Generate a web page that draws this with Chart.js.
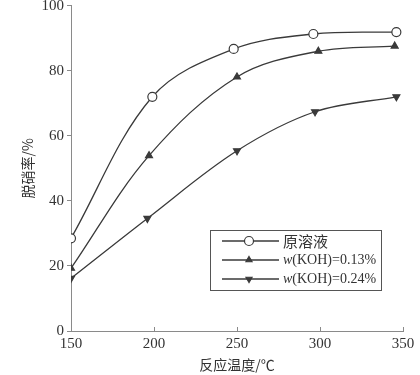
<!DOCTYPE html>
<html>
<head>
<meta charset="utf-8">
<script src="https://cdn.jsdelivr.net/npm/chart.js@4/dist/chart.umd.min.js"></script>
<style>
html,body{margin:0;padding:0;background:#fff;}
canvas{display:block;}
</style>
</head>
<body>
<canvas id="c" width="420" height="375"></canvas>
<script>
const seriesNames = ["原溶液", "w(KOH)=0.13%", "w(KOH)=0.24%"];
const tempsRaw   = [150, 199, 248, 296, 346];
const ratesRaw   = [28.5, 72.0, 86.7, 91.3, 91.9];
const temps013   = [150, 197, 250, 299, 345];
const rates013   = [19.3, 53.9, 78.1, 86.0, 87.6];
const temps024   = [150, 196, 250, 297, 346];
const rates024   = [16.2, 34.6, 55.4, 67.4, 72.0];
const xTicks = [150, 200, 250, 300, 350];
const yTicks = [0, 20, 40, 60, 80, 100];
const xTitle = "反应温度/℃";
const yTitle = "脱硝率/%";

const LINE = "#3a3a3a";
const FONT = "'Liberation Serif', 'Noto Sans CJK SC', serif";

function pts(xs, ys){ return xs.map((x,i)=>({x:x,y:ys[i]})); }

const markers = [
  {pointStyle:'circle', radius:4.5, bg:'#ffffff', rot:0},
  {pointStyle:'triangle', radius:4, bg:LINE, rot:0},
  {pointStyle:'triangle', radius:4, bg:LINE, rot:180}
];
const dataSets = [pts(tempsRaw, ratesRaw), pts(temps013, rates013), pts(temps024, rates024)];

const datasets = dataSets.map((d,i)=>({
  label: seriesNames[i],
  data: d,
  borderColor: LINE,
  borderWidth: 1.3,
  backgroundColor: markers[i].bg,
  pointBackgroundColor: markers[i].bg,
  pointBorderColor: LINE,
  pointBorderWidth: 1.2,
  pointStyle: markers[i].pointStyle,
  pointRadius: markers[i].radius,
  pointRotation: markers[i].rot,
  tension: 0.35,
  fill: false
}));

const customPlugin = {
  id: 'custom',
  afterDraw(chart){
    const ctx = chart.ctx;
    const xs = chart.scales.x, ys = chart.scales.y;
    ctx.save();
    ctx.strokeStyle = '#8a8a8a';
    ctx.lineWidth = 1;
    xTicks.forEach(v=>{
      const px = Math.round(xs.getPixelForValue(v)) + 0.5;
      ctx.beginPath();
      ctx.moveTo(px, ys.bottom);
      ctx.lineTo(px, ys.bottom - 4);
      ctx.stroke();
    });
    const bx = 210.5, by = 230.5, bw = 171, bh = 60;
    ctx.strokeStyle = '#555';
    ctx.lineWidth = 1;
    ctx.strokeRect(bx, by, bw, bh);
    const rowsY = [241, 260, 279];
    for (let i=0;i<3;i++){
      const y = rowsY[i];
      ctx.strokeStyle = LINE;
      ctx.lineWidth = 1.3;
      ctx.beginPath();
      ctx.moveTo(222, y);
      ctx.lineTo(279, y);
      ctx.stroke();
      ctx.fillStyle = markers[i].bg;
      ctx.strokeStyle = LINE;
      ctx.lineWidth = 1.2;
      Chart.helpers.drawPoint(ctx, {
        pointStyle: markers[i].pointStyle,
        radius: i===0 ? 4.5 : 3.5,
        rotation: markers[i].rot,
        borderWidth: 1.2
      }, 249, y);
      ctx.fillStyle = '#333';
      ctx.textBaseline = 'middle';
      ctx.textAlign = 'left';
      const name = seriesNames[i];
      if (name.startsWith('w(')){
        ctx.font = "italic 14px " + FONT;
        ctx.fillText('w', 283, y);
        const w = ctx.measureText('w').width;
        ctx.font = "14px " + FONT;
        ctx.fillText(name.slice(1), 283 + w, y);
      } else {
        ctx.font = "15px 'Noto Sans CJK SC', sans-serif";
        ctx.fillText(name, 283, y);
      }
    }
    ctx.restore();
  }
};

new Chart(document.getElementById('c'), {
  type: 'line',
  data: { datasets: datasets },
  plugins: [customPlugin],
  options: {
    responsive: false,
    animation: false,
    layout: { padding: { left: 19, right: 17, top: 5, bottom: 0 } },
    plugins: { legend: { display: false }, tooltip: { enabled: false } },
    scales: {
      x: {
        type: 'linear',
        min: 150, max: 350,
        afterBuildTicks: s => { s.ticks = xTicks.map(v=>({value:v})); },
        afterFit: s => { s.height = 44; s.paddingLeft = 0; s.paddingRight = 0; },
        border: { display: true, color: '#8a8a8a', width: 1 },
        grid: { display: true, drawOnChartArea: false, drawTicks: false },
        ticks: { color: '#333', font: { family: FONT, size: 15 }, padding: 4, maxRotation: 0 },
        title: { display: true, text: xTitle, color: '#333', font: { family: "'Noto Sans CJK SC', sans-serif", size: 14 }, padding: { top: 0, bottom: 2 } }
      },
      y: {
        type: 'linear',
        min: 0, max: 100,
        afterBuildTicks: s => { s.ticks = yTicks.map(v=>({value:v})); },
        afterFit: s => { s.width = 52; s.paddingTop = 0; s.paddingBottom = 0; },
        border: { display: true, color: '#8a8a8a', width: 1 },
        grid: { display: true, drawOnChartArea: false, drawTicks: true, tickLength: 4, color: '#8a8a8a' },
        ticks: { color: '#333', font: { family: FONT, size: 15 }, padding: 3 },
        title: { display: true, text: yTitle, color: '#333', font: { family: "'Noto Sans CJK SC', sans-serif", size: 14 }, padding: { top: 0, bottom: 0 } }
      }
    }
  }
});
</script>
</body>
</html>
